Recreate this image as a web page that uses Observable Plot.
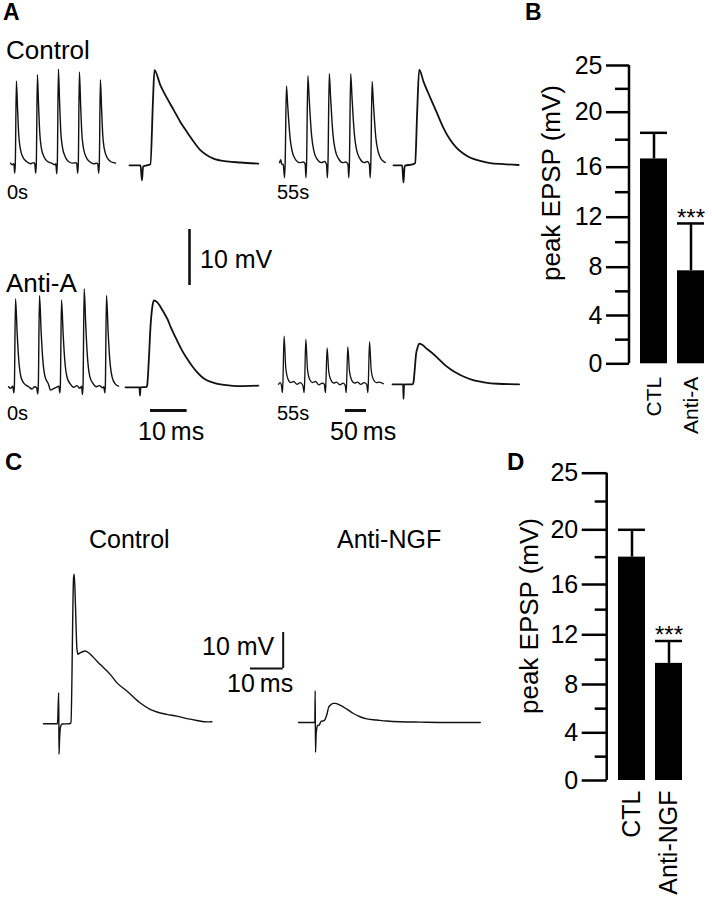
<!DOCTYPE html>
<html><head><meta charset="utf-8">
<script src="https://cdn.jsdelivr.net/npm/d3@7"></script>
<script src="https://cdn.jsdelivr.net/npm/@observablehq/plot@0.6"></script>
<style>
html,body{margin:0;padding:0;background:#fff;}
#fig{position:relative;width:712px;height:899px;overflow:hidden;font-family:"Liberation Sans",Arial,Helvetica,sans-serif;}
.abs{position:absolute;line-height:0;}
.abs svg{overflow:visible;}
</style></head><body><div id="fig"></div>
<script>
// ---------------- DATA ----------------
// Bar charts (peak EPSP, mV)
const barCategoriesB = ["CTL", "Anti-A"];
const barMeansB = [16.6, 7.7];
const barErrorsB = [1.9, 3.8];
const barSigB = ["", "***"];
const barCategoriesD = ["CTL", "Anti-NGF"];
const barMeansD = [18.0, 9.7];
const barErrorsD = [2.0, 1.8];
const barSigD = ["", "***"];
const yTickValues = [0, 4, 8, 12, 16, 20, 25];
const yMinorTickValues = [2, 6, 10, 14, 18, 22.5];
const yAxisTitle = "peak EPSP (mV)";

// Scale bars
const scaleBarMV = 10, scaleBarFastMs = 10, scaleBarSlowMs = 50;

// Text labels
const panelLetters = ["A", "B", "C", "D"];
const conditionLabelsA = ["Control", "Anti-A"];
const conditionLabelsC = ["Control", "Anti-NGF"];
const timeLabels = ["0s", "55s"];

// Traces: [time (ms), voltage (mV re. baseline)]
const ctl0Train = [[0,0.2],[4,-0.1],[8,0.1],[10,-1.6],[11.5,0.3],[14,14.9],[17,9.5],[19.5,5.4],[23.5,2.7],[30,1.2],[38,0.5],[48,0.1],[56,0.3],[58,0],[60,-1.6],[61.5,0.3],[64,16.0],[67,10.2],[69.5,5.8],[73.5,2.9],[80,1.3],[88,0.5],[98,0.2],[106,-0.1],[108,0.1],[110,-1.7],[111.5,0.3],[114,17.0],[117,10.9],[119.5,6.1],[123.5,3.1],[130,1.4],[138,0.5],[148,0.2],[156,0.3],[158,0],[160,-1.6],[161.5,0.3],[164,16.5],[167,10.6],[169.5,5.9],[173.5,3.0],[180,1.3],[188,0.5],[198,0.1],[206,0.2],[208,0],[210,-1.6],[211.5,0.3],[214,15.1],[217,9.7],[219.5,5.4],[223.5,2.7],[230,1.2],[238,0.5],[246,0.3],[250,0.2]];
const ctl0Epsp = [[0,0],[3.0,0],[3.4,-2.7],[3.7,-0.2],[5.7,0.2],[6.4,11.6],[6.8,17.0],[8.4,14.3],[10.3,11.9],[12.1,9.8],[13.9,7.7],[15.7,5.9],[17.5,4.2],[19.3,2.7],[21.1,1.8],[22.9,1.2],[26.6,0.7],[30.2,0.5],[35.1,0.3]];
const ctl55Train = [[0,0.3],[3,0.8],[5,0.1],[9,-0.1],[12,-2.4],[13.5,0.3],[16.5,14.0],[19.5,10.5],[22,7.7],[25.5,4.5],[30.5,2.2],[38.5,0.8],[48.5,0.3],[56,0.4],[61,0.1],[63,-2.4],[64.5,0.3],[67.5,15.8],[70.5,11.9],[73,8.7],[76.5,5.1],[81.5,2.5],[89.5,0.9],[99.5,0.3],[107,0.5],[112,0],[114,-2.4],[115.5,0.3],[118.5,16.2],[121.5,12.2],[124,8.9],[127.5,5.2],[132.5,2.6],[140.5,1.0],[150.5,0.3],[158,0.4],[163,0],[165,-2.4],[166.5,0.3],[169.5,16.2],[172.5,12.2],[175,8.9],[178.5,5.2],[183.5,2.6],[191.5,1.0],[201.5,0.3],[209,0.5],[214,0],[216,-2.4],[217.5,0.3],[220.5,14.8],[223.5,11.1],[226,8.1],[229.5,4.7],[234.5,2.4],[242.5,0.9],[250,0.4],[252,0.3]];
const ctl55Epsp = [[0,0],[2.37,0],[2.72,-3.1],[3.05,-0.1],[5.4,0.2],[5.9,0.4],[6.46,9.7],[7.0,17.1],[8.2,14.9],[10.0,12.1],[11.8,9.4],[13.6,6.7],[15.4,4.6],[17.2,3.1],[19.0,2.1],[20.8,1.4],[23.6,0.8],[26.3,0.4],[30.0,0.2],[34.1,0.05]];
const antiA0Train = [[0,0.1],[5,-0.2],[10,0.2],[12.7,-1.0],[14,0.3],[16.7,15.8],[20.7,9.5],[24.6,4.7],[30.2,1.7],[38,0.6],[48,0.1],[56,-0.3],[62,0.1],[67,-0.1],[69.8,-1.2],[71,0.3],[73.8,16.4],[77.8,9.8],[81.7,4.9],[87.3,1.8],[95,0.6],[100,-0.5],[106,-0.3],[114,0],[120,0.2],[122.2,-1.0],[123.5,0.3],[126.2,15.6],[130.2,9.4],[134.1,4.7],[139.7,1.7],[147,0.6],[155,0],[163,0.3],[170,-0.2],[174,0.2],[176.2,-1.3],[177.5,0.3],[180.2,17.6],[184.2,10.6],[188.1,5.3],[193.7,1.9],[201,0.7],[209,0.1],[217,0.3],[224,-0.1],[227,0.1],[229.3,-1.0],[230.6,0.3],[233.3,16.4],[237.3,9.8],[241.2,4.9],[246.8,1.8],[254,0.6],[262,0.2]];
const antiA0Epsp = [[0,0],[3.81,0],[3.95,-1.5],[4.09,0],[5.7,0.05],[5.9,0.3],[6.35,4.8],[6.8,10.7],[7.3,14.3],[7.7,15.5],[8.6,15.2],[9.5,14.4],[10.4,13.4],[11.4,12.2],[12.3,10.8],[13.2,9.5],[14.1,8.3],[15.4,6.6],[16.8,5.1],[18.2,3.75],[19.5,2.7],[20.9,1.8],[22.3,1.2],[24.1,0.8],[25.9,0.5],[28.6,0.3],[31.3,0.2],[36.2,0.3]];
const antiA55Train = [[0,0],[4,0.3],[7,-0.2],[9.3,-1.5],[10.5,0.3],[13.3,8.6],[17.3,2.9],[22.8,0.9],[29.3,0.3],[36,0.5],[44,0],[52,0.3],[58,-0.2],[61,-1.5],[62.2,0.3],[65,8.0],[69,2.7],[74.5,0.8],[81,0.3],[88,0.5],[96,-0.1],[104,0.2],[109,0],[111.7,-1.5],[112.9,0.3],[115.7,6.5],[119.7,2.2],[125.2,0.7],[131.7,0.2],[138,0.4],[146,-0.1],[154,0.2],[159,-0.2],[161,-1.5],[162.2,0.3],[165,6.7],[169,2.3],[174.5,0.7],[181,0.2],[188,0.4],[196,0],[204,0.3],[210,0],[212.7,-1.5],[213.9,0.3],[216.7,7.6],[220.7,2.6],[226.2,0.8],[232.7,0.3],[240,0.4],[250,0.1]];
const antiA55Epsp = [[0,0],[2.9,0],[3.0,-2.6],[3.15,0],[5.5,0],[5.7,0.3],[6.1,2.95],[6.4,5.3],[6.8,6.5],[7.3,7.25],[8.2,7.0],[9.5,6.25],[10.4,5.8],[12.2,4.75],[14.0,3.6],[15.8,2.7],[17.6,1.96],[19.5,1.35],[22.2,0.7],[24.9,0.36],[28.6,0.1],[34.5,0]];
const cControlTrace = [[0,0],[4.28,0],[4.65,8.6],[4.74,-8.5],[4.89,-4.8],[5.1,-1.5],[5.3,-0.6],[5.7,-0.1],[8.0,0],[8.4,0.3],[9.2,40.6],[9.4,41.5],[9.8,32.2],[10.2,21.1],[10.5,19.3],[11.2,19.7],[12.75,20.2],[14.3,19.3],[16.3,17.4],[17.3,16.5],[20.4,13.7],[22.4,11.4],[25.5,9.1],[29.5,5.8],[32.6,4.0],[34.7,3.25],[37.7,2.6],[40.8,2.1],[43.9,1.4],[46.9,0.9],[50.0,0.5],[51.5,0.55]];
const cAntiNgfTrace = [[0,0],[5.0,0],[5.1,8.8],[5.2,-8.3],[5.4,-3.2],[5.8,-0.9],[6.4,-0.6],[6.9,0.3],[7.8,0.5],[8.7,2.3],[9.2,4.2],[9.7,4.8],[10.7,5.3],[11.2,5.3],[12.7,4.8],[14.8,3.7],[16.8,2.5],[18.8,1.6],[20.9,1.0],[23.9,0.7],[27.0,0.4],[31.1,0.2],[37.2,0.1],[45.4,0],[55.6,0]];

// ---------------- LAYOUT ----------------
const FONT = '"Liberation Sans", Arial, Helvetica, sans-serif';
const fig = document.getElementById("fig");
function place(node, left, top) {
  const d = document.createElement("div");
  d.className = "abs";
  d.style.left = left + "px";
  d.style.top = top + "px";
  d.appendChild(node);
  fig.appendChild(d);
}
// pixel scales for traces (from the scale bars)
const A_MV = 5.6, A_SLOW = 0.42, A_FAST = 3.67, C_MV = 3.6, C_MS = 3.27;

function trace(data, o) {
  const pad = 4;
  const w = o.tMax * o.pxMs + 2 * pad;
  const h = (o.vMax - o.vMin) * o.pxMv + 2 * pad;
  const p = Plot.plot({
    width: w, height: h, margin: 0,
    x: {domain: [0, o.tMax], range: [pad, w - pad], axis: null},
    y: {domain: [o.vMin, o.vMax], range: [h - pad, pad], axis: null},
    style: {background: "transparent", overflow: "visible"},
    marks: [Plot.line(data, {x: d => d[0], y: d => d[1], stroke: "#111", strokeWidth: o.sw, strokeLinejoin: "round", curve: "monotone-x"})]
  });
  place(p, o.left - pad, o.baseY - o.vMax * o.pxMv - pad);
}
function scaleBar(o) {
  const pad = 3;
  const w = (o.ms || 0) * o.pxMs + 2 * pad;
  const h = (o.mv || 0) * o.pxMv + 2 * pad;
  const marks = [];
  if (o.mv) marks.push(Plot.ruleX([o.ms || 0], {x: d => d, y1: 0, y2: o.mv, stroke: "#111", strokeWidth: o.sw}));
  if (o.ms) marks.push(Plot.ruleY([0], {y: d => d, x1: 0, x2: o.ms, stroke: "#111", strokeWidth: o.sw}));
  const p = Plot.plot({
    width: w, height: h, margin: 0,
    x: {domain: [0, Math.max(o.ms || 0, 1)], range: [pad, pad + Math.max(o.ms || 0, 1) * o.pxMs], axis: null},
    y: {domain: [0, Math.max(o.mv || 0, 1)], range: [h - pad, h - pad - Math.max(o.mv || 0, 1) * o.pxMv], axis: null},
    style: {background: "transparent", overflow: "visible"},
    marks
  });
  place(p, o.left - pad, o.top - pad);
}

// Panel A traces
trace(ctl0Train,   {left: 10,    baseY: 163.3, pxMs: A_SLOW, pxMv: A_MV, tMax: 250, vMin: -3, vMax: 18, sw: 1.4});
trace(ctl0Epsp,    {left: 129,   baseY: 165,   pxMs: A_FAST, pxMv: A_MV, tMax: 35.1, vMin: -3, vMax: 18, sw: 1.8});
trace(ctl55Train,  {left: 279,   baseY: 163.3, pxMs: A_SLOW, pxMv: A_MV, tMax: 252, vMin: -3, vMax: 18, sw: 1.4});
trace(ctl55Epsp,   {left: 393.3, baseY: 164.3, pxMs: A_FAST, pxMv: A_MV, tMax: 34.1, vMin: -3.5, vMax: 18, sw: 1.8});
trace(antiA0Train, {left: 8,     baseY: 386.7, pxMs: A_SLOW, pxMv: A_MV, tMax: 262, vMin: -3, vMax: 18, sw: 1.4});
trace(antiA0Epsp,  {left: 125,   baseY: 386.7, pxMs: A_FAST, pxMv: A_MV, tMax: 36.2, vMin: -3, vMax: 18, sw: 1.8});
trace(antiA55Train,{left: 277.7, baseY: 383.3, pxMs: A_SLOW, pxMv: A_MV, tMax: 250, vMin: -3, vMax: 18, sw: 1.3});
trace(antiA55Epsp, {left: 391.7, baseY: 383.3, pxMs: A_FAST, pxMv: A_MV, tMax: 34.5, vMin: -3, vMax: 18, sw: 1.8});
// Panel C traces
trace(cControlTrace, {left: 43.3,  baseY: 722.7, pxMs: C_MS, pxMv: C_MV, tMax: 51.5, vMin: -9, vMax: 42, sw: 1.4});
trace(cAntiNgfTrace, {left: 298.3, baseY: 721.7, pxMs: C_MS, pxMv: C_MV, tMax: 55.6, vMin: -9, vMax: 10, sw: 1.4});

// Scale bars
scaleBar({mv: scaleBarMV, pxMv: A_MV, pxMs: A_FAST, left: 189, top: 229, sw: 2.6});
scaleBar({ms: scaleBarFastMs, pxMs: A_FAST, pxMv: A_MV, left: 150, top: 410, sw: 3});
scaleBar({ms: scaleBarSlowMs, pxMs: A_SLOW, pxMv: A_MV, left: 345, top: 410, sw: 3});
scaleBar({mv: scaleBarMV, ms: scaleBarFastMs, pxMv: C_MV, pxMs: C_MS, left: 250, top: 631.7, sw: 2});

// Bar charts: the printed axis is slightly uneven, so labelled ticks are mapped
// piecewise onto their printed positions (pos = fraction of axis height).
function barChart(o) {
  const data = o.cats.map((c, i) => ({cat: c, mean: o.means[i], err: o.errs[i], sig: o.sig[i]}));
  const pw = d3.scaleLinear().domain(yTickValues).range(o.tickPos);
  const top = yTickValues[yTickValues.length - 1];
  const axisLine = (index, {x, y}) => d3.create("svg:line")
      .attr("x1", o.axisX).attr("x2", o.axisX)
      .attr("y1", y(pw(0))).attr("y2", y(pw(top)))
      .attr("stroke", "#000").attr("stroke-width", 2.5).node();
  const p = Plot.plot({
    width: o.width, height: o.height,
    marginLeft: o.axisX, marginTop: 0, marginRight: 0, marginBottom: 0,
    x: {domain: o.cats, range: o.xRange, padding: o.padding, axis: null},
    y: {transform: pw, domain: [0, 1], range: [o.y0, o.yTop], axis: null},
    style: {background: "transparent", overflow: "visible", fontFamily: FONT, color: "#000"},
    marks: [
      Plot.barY(data, {x: "cat", y1: 0, y2: "mean", fill: "#000"}),
      Plot.ruleX(data, {x: "cat", y1: "mean", y2: d => d.mean + d.err, stroke: "#000", strokeWidth: 2.5}),
      Plot.tickY(data, {x: "cat", y: d => d.mean + d.err, stroke: "#000", strokeWidth: 2.5}),
      Plot.text(data, {x: "cat", y: d => d.mean + d.err, text: "sig", dy: o.starDy, fontSize: 24, fill: "#000"}),
      Plot.axisY(yTickValues, {anchor: "left", label: null, tickSize: o.majorTick, tickPadding: 4, fontSize: o.fs, strokeWidth: 2.5, tickFormat: d => String(d)}),
      Plot.axisY(yMinorTickValues, {anchor: "left", label: null, tickSize: o.minorTick, strokeWidth: 2.5, tickFormat: () => ""}),
      axisLine,
      Plot.text(data, {x: "cat", y: 0, text: "cat", rotate: -90, textAnchor: "end", dy: o.labelDy, fontSize: o.labelFs, fill: "#000"})
    ]
  });
  place(p, o.left, o.top);
}
// printed tick positions (px from the 0 line, as a fraction of the 0..25 span)
barChart({cats: barCategoriesB, means: barMeansB, errs: barErrorsB, sig: barSigB,
  left: 530, top: 40, width: 182, height: 400, axisX: 99,
  xRange: [98.7, 185.3], padding: 0.28, y0: 323.3, yTop: 25,
  tickPos: [0, 48.3, 96.6, 146.6, 196.6, 251.6, 298.3].map(v => v / 298.3),
  majorTick: 23, minorTick: 14, fs: 25, starDy: -5, labelDy: 13, labelFs: 21});
barChart({cats: barCategoriesD, means: barMeansD, errs: barErrorsD, sig: barSigD,
  left: 500, top: 450, width: 212, height: 449, axisX: 106.7,
  xRange: [107.5, 192.7], padding: 0.26, y0: 330, yTop: 22.7,
  tickPos: [0, 47.7, 96, 145.7, 196, 250.7, 307.3].map(v => v / 307.3),
  majorTick: 25, minorTick: 12, fs: 25, starDy: -6, labelDy: 10, labelFs: 25});

// Text overlay
const texts = [
  {t: panelLetters[0], x: 3,   y: 20,  fs: 23, b: true},
  {t: panelLetters[1], x: 525, y: 20,  fs: 23, b: true},
  {t: panelLetters[2], x: 5,   y: 470, fs: 24, b: true},
  {t: panelLetters[3], x: 507, y: 470, fs: 24, b: true},
  {t: conditionLabelsA[0], x: 6, y: 59,  fs: 26},
  {t: conditionLabelsA[1], x: 6, y: 292, fs: 26},
  {t: timeLabels[0], x: 7,   y: 199, fs: 20},
  {t: timeLabels[1], x: 277, y: 199, fs: 20},
  {t: timeLabels[0], x: 7,   y: 420, fs: 20},
  {t: timeLabels[1], x: 277, y: 420, fs: 20},
  {t: scaleBarMV + " mV", x: 200, y: 268, fs: 25},
  {t: scaleBarFastMs + "\u2009ms", x: 138, y: 440, fs: 25},
  {t: scaleBarSlowMs + "\u2009ms", x: 330, y: 440, fs: 25},
  {t: conditionLabelsC[0], x: 89,  y: 548, fs: 25},
  {t: conditionLabelsC[1], x: 337, y: 548, fs: 25},
  {t: scaleBarMV + " mV", x: 202, y: 655, fs: 25},
  {t: scaleBarFastMs + "\u2009ms", x: 227, y: 692, fs: 25},
  {t: yAxisTitle, x: 560, y: 183, fs: 26, rot: true},
  {t: yAxisTitle, x: 538, y: 616, fs: 26, rot: true}
];
const svg = d3.create("svg").attr("width", 712).attr("height", 899)
  .style("position", "absolute").style("left", 0).style("top", 0).style("pointer-events", "none")
  .style("font-family", FONT);
for (const d of texts) {
  const el = svg.append("text").text(d.t).attr("font-size", d.fs).attr("fill", "#000")
    .attr("font-weight", d.b ? "bold" : "normal");
  if (d.rot) el.attr("text-anchor", "middle").attr("transform", `translate(${d.x},${d.y}) rotate(-90)`);
  else el.attr("x", d.x).attr("y", d.y);
}
fig.appendChild(svg.node());
</script></body></html>
